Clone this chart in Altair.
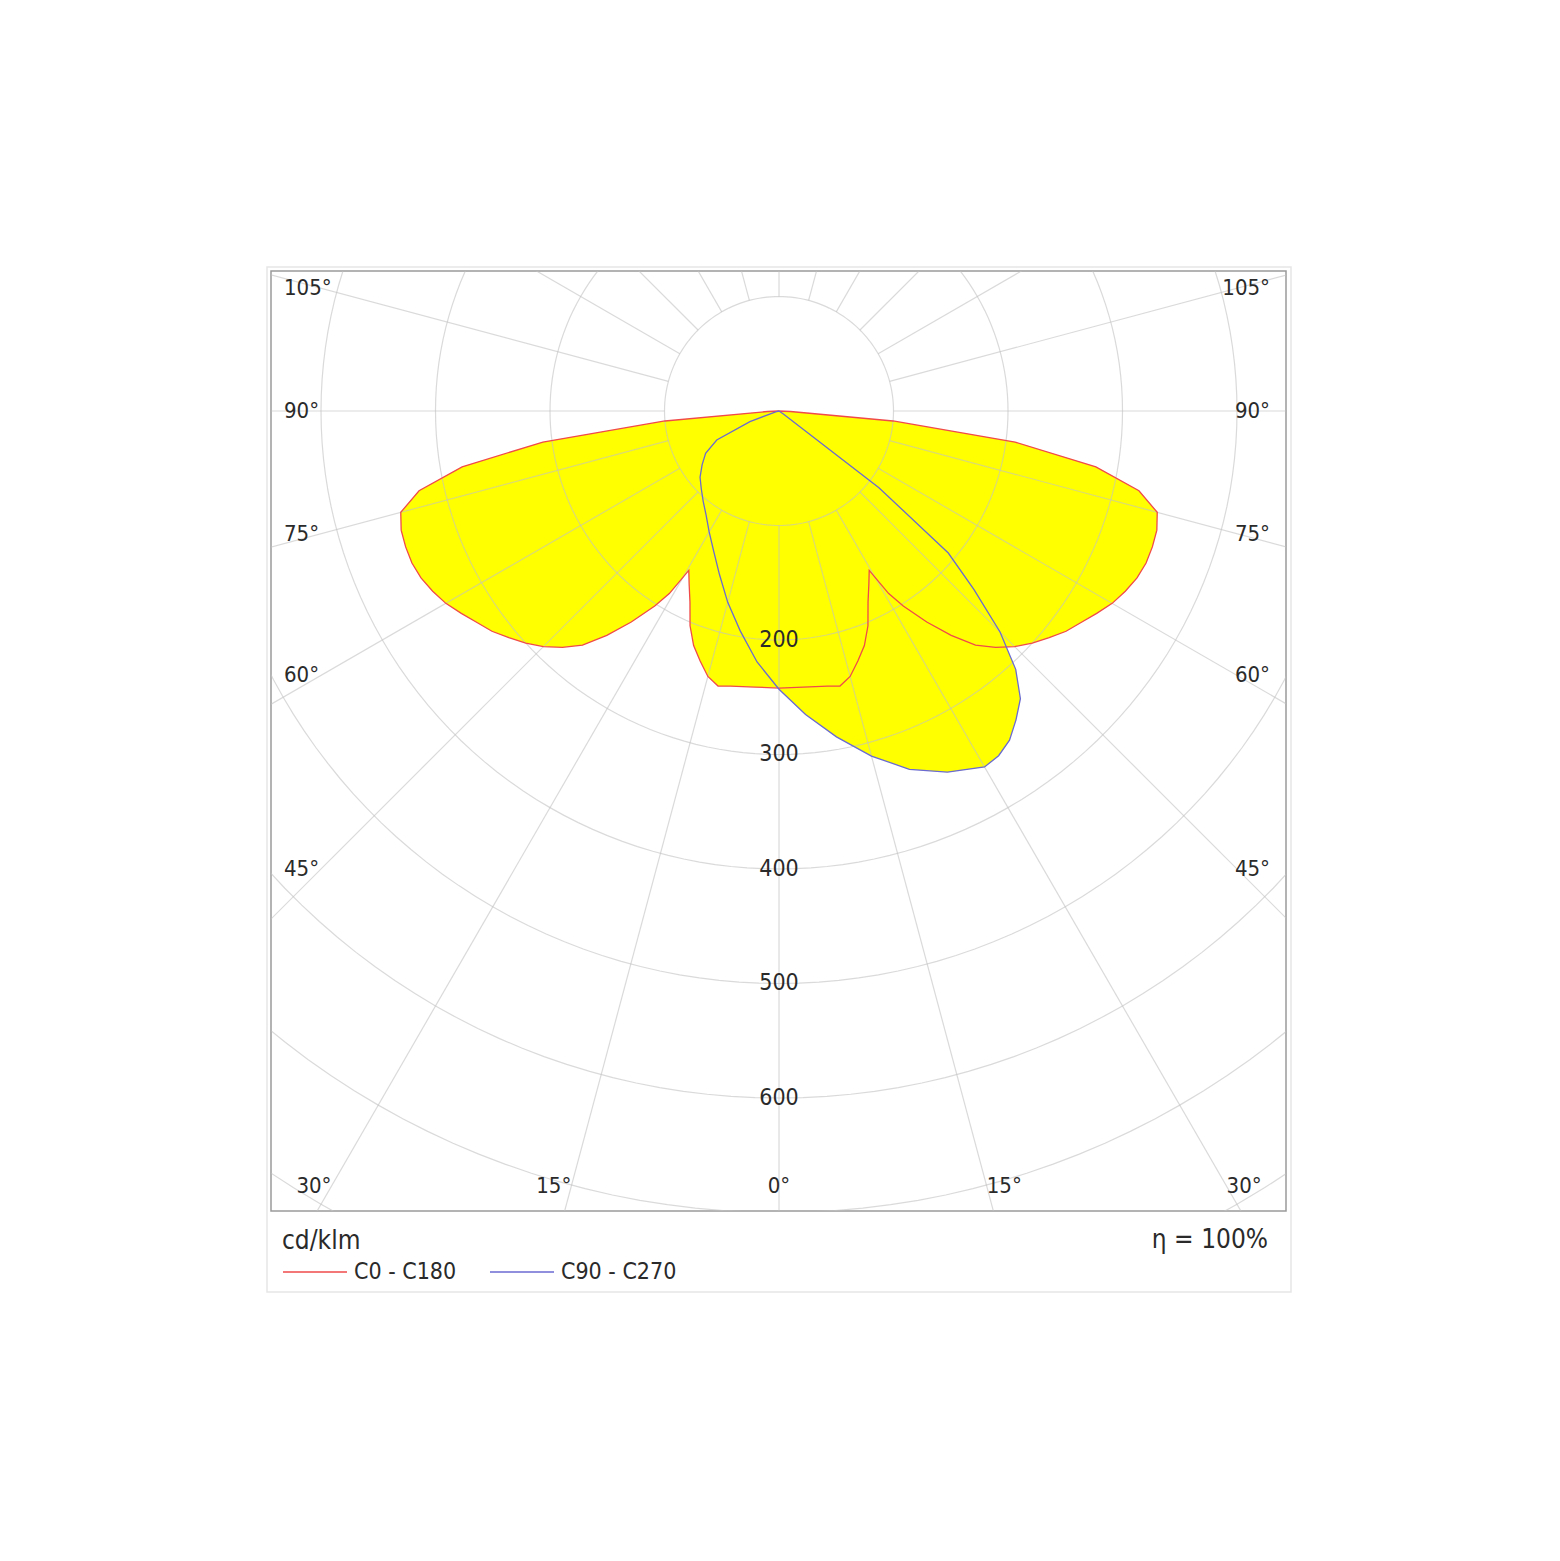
import altair as alt
import pandas as pd

# ---------------- data (gamma in degrees, I in cd/klm) -------------
# C0 - C180 plane (symmetric: C180 is the mirror of C0)
gamma_c0 = [0, 5, 10, 12.5, 15, 17.5, 20, 22.5, 25, 27.5, 29.5, 31, 32.5, 35, 37.5, 40,
            42.5, 45, 47.5, 50, 52.5, 55, 57.5, 60, 62.5, 65, 67.5, 70, 72.5, 75, 77.5,
            80, 82.5, 85, 87.5, 90]
r_c0 = [242, 242, 244, 246, 240, 229, 218, 203, 184, 170, 160, 186, 202, 225, 247, 267,
        280, 291, 300, 308, 316, 322, 329, 336, 341, 345, 347, 347, 346, 342, 322,
        281, 208, 100, 10, 0]

# C90 plane (right half of the blue curve)
gamma_c90 = [0, 5, 10, 15, 20, 25, 30, 32.5, 35, 37.5, 40, 42.5, 45, 47.5, 50, 52.5,
             55, 60, 70, 80, 90]
r_c90 = [243, 266, 289, 312, 333, 348, 359, 357, 351, 340, 328, 306, 273, 231, 193, 110,
         5, 0, 0, 0, 0]

# C270 plane (left half of the blue curve)
gamma_c270 = [0, 5, 10, 15, 20, 25, 30, 35, 40, 45, 50, 55, 60, 65, 70, 75, 80, 90]
r_c270 = [243, 220, 195, 173, 152, 135, 122, 111, 103, 96, 90, 82, 74, 60, 27, 3, 0, 0]

series_names = ["C0 - C180", "C90 - C270"]
ring_values = [100, 200, 300, 400, 500, 600, 700, 800, 900]
ring_labels = [200, 300, 400, 500, 600]
spoke_angles = list(range(0, 360, 15))
side_label_angles = [105, 90, 75, 60, 45]
bottom_left_angles = [30, 15]
bottom_right_angles = [15, 30]
center_angles = [0]
unit_text = "cd/klm"
eta_text = "η = 100%"

# ---------------- tables built from the arrays ----------------
rows = []
k = 0
for g, r in zip(reversed(gamma_c0), reversed(r_c0)):
    rows.append(dict(series=series_names[0], gamma=g, r=r, side=-1, order=k)); k += 1
for g, r in zip(gamma_c0, r_c0):
    rows.append(dict(series=series_names[0], gamma=g, r=r, side=1, order=k)); k += 1
k = 0
for g, r in zip(reversed(gamma_c270), reversed(r_c270)):
    rows.append(dict(series=series_names[1], gamma=g, r=r, side=-1, order=k)); k += 1
for g, r in zip(gamma_c90, r_c90):
    rows.append(dict(series=series_names[1], gamma=g, r=r, side=1, order=k)); k += 1
curves = pd.DataFrame(rows)

circ = pd.DataFrame([dict(R=R, t=t) for R in ring_values for t in range(0, 361, 2)])
spokes = pd.DataFrame(dict(a=spoke_angles))
vlabels = pd.DataFrame(dict(v=ring_labels))

FONT = "Tahoma, 'DejaVu Sans Condensed', 'Liberation Sans Narrow', 'DejaVu Sans', sans-serif"
TXT = "#2a2a2a"
GRID = "#c2c2c2"

XS = alt.Scale(domain=[-443.67, 442.79], nice=False, zero=False)
YS = alt.Scale(domain=[-698.69, 122.27], nice=False, zero=False)


def X(f):
    return alt.X(f, type="quantitative", scale=XS, axis=None)


def Y(f):
    return alt.Y(f, type="quantitative", scale=YS, axis=None)


polar = dict(px="datum.side * datum.r * sin(datum.gamma * PI / 180)",
             py="-datum.r * cos(datum.gamma * PI / 180)")

frame = alt.Chart(pd.DataFrame(dict(k=[0]))).mark_rect(
    fill="transparent", stroke="#e6e6e6", strokeWidth=1.5
).encode(x=alt.value(-4), x2=alt.value(1020), y=alt.value(-4), y2=alt.value(1021))

fill = alt.Chart(curves).transform_calculate(**polar).mark_line(
    fill="#ffff00", strokeOpacity=0, clip=True
).encode(x=X("px"), y=Y("py"), order="order:Q", detail="series:N")

circles = alt.Chart(circ).transform_calculate(
    cx="datum.R * sin(datum.t * PI / 180)", cy="datum.R * cos(datum.t * PI / 180)"
).mark_line(stroke=GRID, strokeWidth=1.2, opacity=0.6, clip=True).encode(
    x=X("cx"), y=Y("cy"), detail="R:N", order="t:Q"
)

rays = alt.Chart(spokes).transform_calculate(
    x1="100 * sin(datum.a * PI / 180)", y1="-100 * cos(datum.a * PI / 180)",
    x2="1100 * sin(datum.a * PI / 180)", y2="-1100 * cos(datum.a * PI / 180)"
).mark_rule(stroke=GRID, strokeWidth=1.2, opacity=0.6, clip=True).encode(
    x=X("x1"), y=Y("y1"), x2="x2:Q", y2="y2:Q"
)

lines = alt.Chart(curves).transform_calculate(**polar).mark_line(
    strokeWidth=1.3, clip=True
).encode(
    x=X("px"), y=Y("py"), order="order:Q",
    color=alt.Color(
        "series:N",
        scale=alt.Scale(domain=series_names, range=["#f04a4a", "#6a6ad2"]),
        legend=alt.Legend(
            title=unit_text, orient="none", legendX=11, legendY=957,
            direction="horizontal", symbolType="stroke", symbolSize=4096,
            symbolStrokeWidth=1.5, labelFont=FONT, titleFont=FONT,
            labelFontSize=23, titleFontSize=26, titleFontWeight="normal",
            labelColor=TXT, titleColor=TXT, labelOffset=6, columnPadding=30,
            titlePadding=-15, padding=0,
        ),
    ),
)

value_text = alt.Chart(vlabels).transform_calculate(ty="-datum.v", tx="0").mark_text(
    font=FONT, fontSize=23, color=TXT, align="center", baseline="middle"
).encode(x=X("tx"), y=Y("ty"), text=alt.Text("v:Q", format="d"))

side_df = pd.DataFrame(dict(a=side_label_angles))
side_calc = dict(ly="-400 * cos(datum.a * PI / 180) / sin(datum.a * PI / 180)",
                 lab="datum.a + '°'")
left_side = alt.Chart(side_df).transform_calculate(**side_calc).mark_text(
    font=FONT, fontSize=22, color=TXT, align="left", baseline="middle"
).encode(x=alt.value(13), y=Y("ly"), text="lab:N")
right_side = alt.Chart(side_df).transform_calculate(**side_calc).mark_text(
    font=FONT, fontSize=22, color=TXT, align="right", baseline="middle"
).encode(x=alt.value(999), y=Y("ly"), text="lab:N")


def bottom(angles, sign, align):
    return alt.Chart(pd.DataFrame(dict(a=angles))).transform_calculate(
        lx=f"{sign} * 677 * tan(datum.a * PI / 180)", lab="datum.a + '°'"
    ).mark_text(font=FONT, fontSize=22, color=TXT, align=align, baseline="middle").encode(
        x=X("lx"), y=alt.value(915), text="lab:N"
    )


bl = bottom(bottom_left_angles, -1, "right")
br = bottom(bottom_right_angles, 1, "left")
bc = bottom(center_angles, 1, "center")

eta = alt.Chart(pd.DataFrame(dict(t=[eta_text]))).mark_text(
    font=FONT, fontSize=26, color=TXT, align="right", baseline="middle"
).encode(x=alt.value(997), y=alt.value(969), text="t:N")

chart = alt.layer(
    frame, fill, circles, rays, lines, value_text, left_side, right_side, bl, br, bc, eta
).properties(
    width=1015, height=940,
    padding={"left": 263, "top": 263, "right": 60, "bottom": 120},
    autosize=alt.AutoSizeParams(type="none"),
    background="white",
).configure_view(stroke="#9a9a9a", strokeWidth=1.5)

chart.save("out.html", embed_options={"renderer": "svg", "actions": False})
